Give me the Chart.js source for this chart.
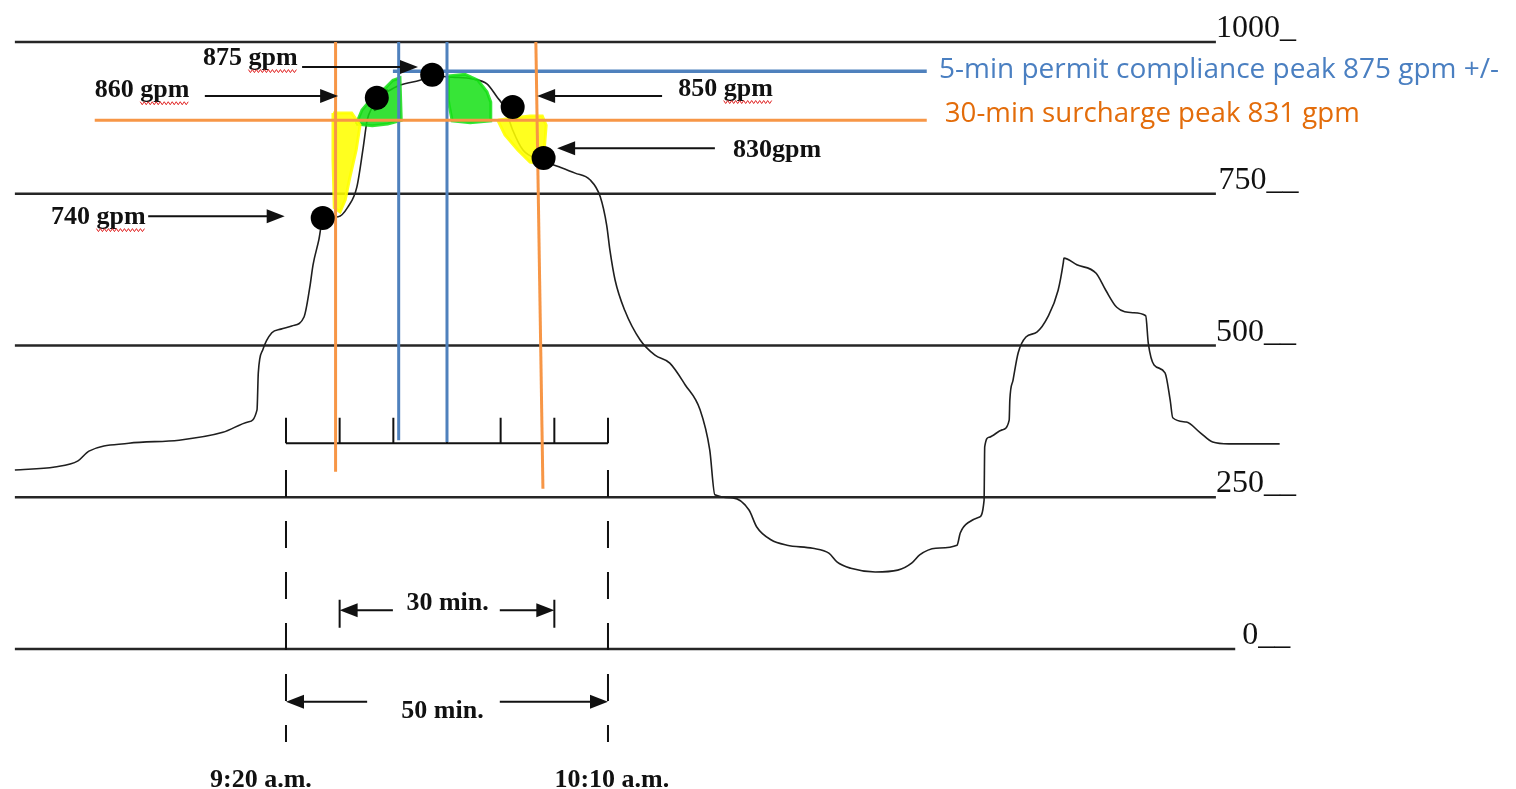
<!DOCTYPE html>
<html>
<head>
<meta charset="utf-8">
<script src="https://cdn.jsdelivr.net/npm/chart.js@4.4.0/dist/chart.umd.min.js"></script>
<style>
  html, body { margin: 0; padding: 0; background: #fff; }
  canvas { display: block; }
</style>
</head>
<body>
<canvas id="flowChart" width="1516" height="789"></canvas>
<script>
// x = minutes after 9:20 a.m., y = flow in gpm
const flowMinutes = [-42.1, -35.9, -32.3, -30.6, -24.4, -16.6, -9.8, -5.9, -4.5, -4.3, -3.6, -2.2, -0.8, 0.9, 2.8, 3.7, 4.2, 5.1, 5.7,
  8.1, 9.6, 11.0, 12.0, 12.6, 13.4, 14.1, 15.7, 17.7, 20.8, 22.7, 25.9, 29.0, 31.2, 32.8, 34.0, 35.2, 36.8, 39.4, 42.5, 44.9,
  47.2, 48.8, 49.8, 50.3, 51.1, 52.6, 55.0, 57.3, 59.6, 62.0, 64.3, 65.8, 66.6, 69.4, 71.9, 73.1, 75.3, 77.8, 81.8, 84.3,
  85.6, 87.7, 91.5, 95.0, 97.2, 98.4, 100.9, 104.2, 104.7, 105.9, 107.6, 108.4, 108.5, 109.2, 111.2, 112.3, 112.4, 112.9,
  113.7, 114.9, 116.6, 118.3, 119.9, 120.7, 120.8, 122.8, 125.8, 127.3, 129.0, 131.5, 133.5, 133.9, 134.8, 136.5, 137.3,
  137.7, 139.8, 141.9, 143.9, 146.4, 154.3];
const flowGpm = [295, 300, 310, 326, 339, 344, 357, 374, 394, 455, 493, 521, 527, 532, 547, 596, 633, 674, 707,
  712, 728, 761, 827, 871, 893, 909, 918, 929, 937, 944, 942, 939, 931, 909, 891, 855, 822, 806, 794, 784,
  773, 745, 698, 657, 608, 558, 509, 484, 471, 435, 394, 328, 254, 249, 229, 201, 180, 171, 166, 158,
  143, 133, 127, 130, 142, 155, 166, 171, 191, 208, 217, 245, 333, 349, 361, 377, 410, 443,
  488, 514, 522, 547, 591, 636, 644, 633, 619, 591, 563, 554, 549, 504, 468, 455, 410,
  381, 374, 357, 341, 338, 338];

const gridGpm = [1000, 750, 500, 250, 0];
const gridLabels = ['1000_', '750__', '500__', '250__', '0__'];
const gridStart = -42.1;
const gridEnd = [144.4, 144.4, 144.4, 144.4, 147.4];
const gridLabelMinutes = [144.4, 144.8, 144.4, 144.4, 148.5];

const dotMinutes = [5.7, 14.1, 22.7, 35.2, 40.0];
const dotGpm = [710, 908, 946, 893, 809];
const dotLabels = ['740 gpm', '860 gpm', '875 gpm', '850 gpm', '830gpm'];
const dotLabelMinutes = [-36.5, -29.7, -12.9, 60.9, 69.4];
const dotLabelGpm = [700, 909, 962, 911, 810];
const dotArrowFrom = [-21.4, -12.6, 2.5, 58.4, 66.6];
const dotArrowTo = [-0.2, 8.1, 20.5, 39.0, 42.1];
const dotArrowGpm = [713, 911, 959, 911, 825];
const dotSquiggle = [true, true, true, true, false];

// 30-min surcharge window (orange), 5-min compliance window (blue)
const surchargeGpm = 871;
const surchargeSpan = [-29.7, 99.5];
const surchargeEdgeTop = [7.7, 38.8];
const surchargeEdgeBottom = [7.7, 39.9];
const surchargeEdgeBottomGpm = [292, 264];
const complianceGpm = 952;
const complianceSpan = [16.6, 99.5];
const complianceEdges = [17.5, 25.0];
const complianceEdgeBottomGpm = [344, 341];
const surchargeText = '30-min surcharge peak 831 gpm';
const complianceText = '5-min permit compliance peak 875 gpm +/-';
const surchargeTextAt = [102.3, 868];
const complianceTextAt = [101.4, 941];

// ruler under the peak and the 50 min window
const rulerMinutes = [0, 8.33, 16.67, 25, 33.33, 41.67, 50];
const rulerGpm = 339;
const rulerTickTopGpm = 381;
const windowEdges = [0, 50];
const windowEdgeGpm = [295, -153];

const spanLabels = ['30 min.', '50 min.'];
const spanLabelMinutes = [25.1, 24.3];
const spanLabelGpm = [64, -114];
const spanArrowGpm = [64, -87];
const spanArrowInner = [[16.6, 33.2], [12.6, 33.2]];
const spanArrowOuter = [[8.33, 41.67], [0, 50]];
const spanBarGpm = [81, 35];

const timeLabels = ['9:20 a.m.', '10:10 a.m.'];
const timeLabelMinutes = [-3.9, 50.6];
const timeLabelGpm = -227;

// highlighter marks
const yellowLeft = [[7.3, 883], [10.2, 883], [11.5, 863], [10.9, 822], [9.9, 776], [9.2, 740], [8.4, 720], [7.5, 727], [7.3, 806], [7.3, 883]];
const greenLeft = [[10.9, 865], [11.8, 888], [13.4, 908], [15.4, 924], [16.6, 937], [17.7, 941], [17.9, 871], [15.8, 865], [13.4, 862], [10.9, 865]];
const greenDark = [[13.0, 900], [14.0, 915], [15.6, 920], [15.2, 895], [13.8, 888], [13.0, 900]];
const greenRight = [[25.2, 944], [27.8, 947], [29.8, 937], [31.2, 918], [31.8, 901], [31.8, 870], [28.6, 867], [25.8, 870], [25.2, 904], [25.2, 944]];
const yellowRight = [[32.9, 871], [35.1, 875], [37.9, 878], [39.8, 878], [40.4, 863], [40.1, 822], [39.8, 799], [37.9, 802], [36.0, 822], [34.0, 847], [32.9, 871]];

const datasets = [];
function addLine(points, color, width, order, more) {
  datasets.push(Object.assign({
    data: points,
    showLine: true,
    borderColor: color,
    borderWidth: width,
    pointRadius: 0,
    fill: false,
    tension: 0,
    order: order
  }, more || {}));
}
const pts = (pairs) => pairs.map(p => ({ x: p[0], y: p[1] }));

gridGpm.forEach((g, i) => addLine([{ x: gridStart, y: g }, { x: gridEnd[i], y: g }], '#262626', 2.5, 6));

addLine(flowMinutes.map((m, i) => ({ x: m, y: flowGpm[i] })), '#1f1f1f', 1.6, 5, { cubicInterpolationMode: 'monotone' });

[[yellowLeft, 'rgba(255,255,0,0.88)'], [yellowRight, 'rgba(255,255,0,0.88)'],
 [greenLeft, 'rgba(20,220,20,0.85)'], [greenRight, 'rgba(20,225,20,0.85)']].forEach(([poly, c]) => {
  addLine(pts(poly), c, 3, 4, { fill: 'shape', backgroundColor: c });
});
addLine(pts(greenDark), 'rgba(0,110,0,0.75)', 2, 1, { fill: 'shape', backgroundColor: 'rgba(0,110,0,0.75)' });

// ruler
addLine([{ x: rulerMinutes[0], y: rulerGpm }, { x: rulerMinutes[rulerMinutes.length - 1], y: rulerGpm }], '#111', 2, 3);
rulerMinutes.forEach(m => addLine([{ x: m, y: rulerGpm }, { x: m, y: rulerTickTopGpm }], '#111', 2, 3));
windowEdges.forEach(m => addLine([{ x: m, y: windowEdgeGpm[0] }, { x: m, y: windowEdgeGpm[1] }], '#111', 2, 3, { borderDash: [27, 24] }));
spanArrowOuter[0].forEach(m => addLine([{ x: m, y: spanBarGpm[0] }, { x: m, y: spanBarGpm[1] }], '#111', 2, 3));

// orange and blue markers
const orange = '#f79646';
const blue = '#4f81bd';
addLine([{ x: surchargeSpan[0], y: surchargeGpm }, { x: surchargeSpan[1], y: surchargeGpm }], orange, 3, 2);
surchargeEdgeTop.forEach((m, i) => addLine([{ x: m, y: 1000 }, { x: surchargeEdgeBottom[i], y: surchargeEdgeBottomGpm[i] }], orange, 3, 2));
addLine([{ x: complianceSpan[0], y: complianceGpm }, { x: complianceSpan[1], y: complianceGpm }], blue, 3.5, 2);
complianceEdges.forEach((m, i) => addLine([{ x: m, y: 1000 }, { x: m, y: complianceEdgeBottomGpm[i] }], blue, 3, 2));

datasets.push({
  data: dotMinutes.map((m, i) => ({ x: m, y: dotGpm[i] })),
  showLine: false,
  pointRadius: 12,
  pointBackgroundColor: '#000',
  pointBorderWidth: 0,
  order: 0
});

function arrow(ctx, x1, y1, x2, y2) {
  const a = Math.atan2(y2 - y1, x2 - x1);
  const len = 18, half = 7;
  ctx.beginPath();
  ctx.moveTo(x1, y1);
  ctx.lineTo(x2 - Math.cos(a) * (len - 2), y2 - Math.sin(a) * (len - 2));
  ctx.stroke();
  ctx.beginPath();
  ctx.moveTo(x2, y2);
  ctx.lineTo(x2 - Math.cos(a) * len - Math.sin(a) * half, y2 - Math.sin(a) * len + Math.cos(a) * half);
  ctx.lineTo(x2 - Math.cos(a) * len + Math.sin(a) * half, y2 - Math.sin(a) * len - Math.cos(a) * half);
  ctx.closePath();
  ctx.fill();
}

function squiggle(ctx, x0, x1, y) {
  ctx.save();
  ctx.strokeStyle = '#e02020';
  ctx.lineWidth = 1;
  ctx.beginPath();
  for (let x = x0, k = 0; x <= x1; x += 2, k++) {
    const yy = y + (k % 2 ? 1.5 : -1.5);
    if (k === 0) ctx.moveTo(x, yy); else ctx.lineTo(x, yy);
  }
  ctx.stroke();
  ctx.restore();
}

const notesPlugin = {
  id: 'sketchNotes',
  afterDatasetsDraw(chart) {
    const { ctx, scales: { x, y } } = chart;
    ctx.save();
    ctx.fillStyle = '#111';
    ctx.strokeStyle = '#111';
    ctx.lineWidth = 2;
    ctx.textBaseline = 'alphabetic';

    // right hand scale
    ctx.font = "32px 'Liberation Serif'";
    ctx.textAlign = 'left';
    gridLabels.forEach((t, i) => {
      ctx.fillText(t, x.getPixelForValue(gridLabelMinutes[i]), y.getPixelForValue(gridGpm[i]) - 5);
    });

    // point call-outs
    ctx.font = "bold 26px 'Liberation Serif'";
    dotLabels.forEach((t, i) => {
      const tx = x.getPixelForValue(dotLabelMinutes[i]);
      const ty = y.getPixelForValue(dotLabelGpm[i]);
      ctx.fillText(t, tx, ty);
      const ay = y.getPixelForValue(dotArrowGpm[i]);
      arrow(ctx, x.getPixelForValue(dotArrowFrom[i]), ay, x.getPixelForValue(dotArrowTo[i]), ay);
      if (dotSquiggle[i]) {
        const cut = t.lastIndexOf(' ') + 1;
        const sx = tx + ctx.measureText(t.slice(0, cut)).width;
        squiggle(ctx, sx, sx + ctx.measureText(t.slice(cut)).width, ty + 6);
      }
    });

    // span arrows
    spanLabels.forEach((t, i) => {
      const ay = y.getPixelForValue(spanArrowGpm[i]);
      spanArrowInner[i].forEach((m, j) => {
        arrow(ctx, x.getPixelForValue(m), ay, x.getPixelForValue(spanArrowOuter[i][j]), ay);
      });
      ctx.textAlign = 'center';
      ctx.fillText(t, x.getPixelForValue(spanLabelMinutes[i]), y.getPixelForValue(spanLabelGpm[i]));
    });
    timeLabels.forEach((t, i) => {
      ctx.fillText(t, x.getPixelForValue(timeLabelMinutes[i]), y.getPixelForValue(timeLabelGpm));
    });

    // coloured notes
    ctx.textAlign = 'left';
    ctx.font = "28px 'Open Sans'";
    ctx.fillStyle = '#4a7fc1';
    ctx.fillText(complianceText, x.getPixelForValue(complianceTextAt[0]), y.getPixelForValue(complianceTextAt[1]), 562);
    ctx.fillStyle = '#e36c0a';
    ctx.fillText(surchargeText, x.getPixelForValue(surchargeTextAt[0]), y.getPixelForValue(surchargeTextAt[1]), 415);
    ctx.restore();
  }
};

new Chart(document.getElementById('flowChart'), {
  type: 'scatter',
  data: { datasets: datasets },
  options: {
    responsive: false,
    animation: false,
    events: [],
    layout: { padding: 0, autoPadding: false },
    plugins: {
      legend: { display: false },
      tooltip: { enabled: false }
    },
    scales: {
      x: { type: 'linear', display: false, min: -44.41, max: 191.0 },
      y: { type: 'linear', display: false, min: -230.6, max: 1069.2 }
    }
  },
  plugins: [notesPlugin]
});
</script>
</body>
</html>
